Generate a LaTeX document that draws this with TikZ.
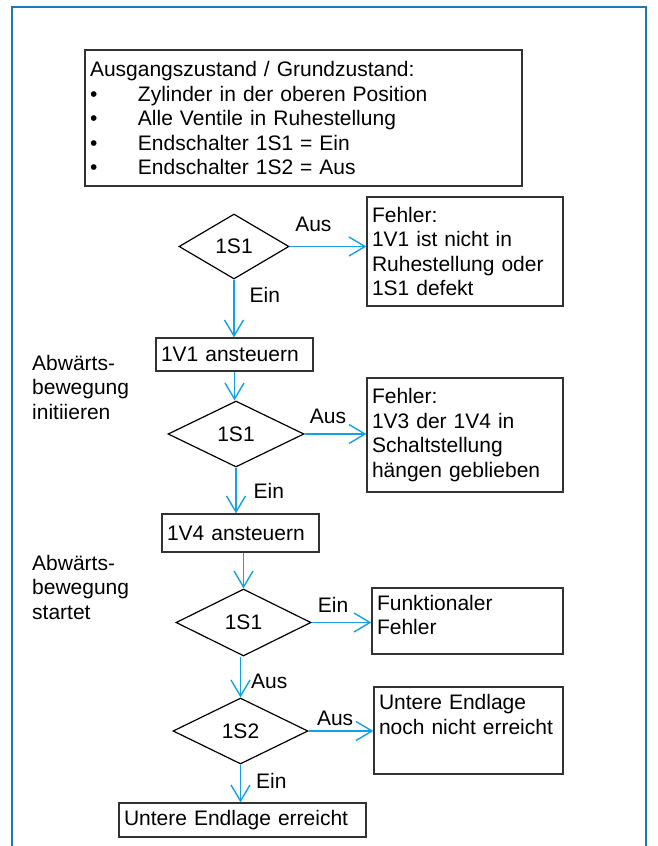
\documentclass[tikz,border=0pt]{standalone}
\usepackage{fontspec}
\setmainfont{Liberation Sans}
\usetikzlibrary{arrows.meta,positioning,calc,shapes.geometric}
\definecolor{framecol}{RGB}{31,119,180}
\definecolor{flowcol}{RGB}{20,160,225}
\definecolor{edgecol}{RGB}{50,50,50}
\newcommand{\txtfont}{\fontsize{21}{24.5}\selectfont}
\newcommand{\blt}{\makebox[48pt][l]{\textbullet}}
\tikzset{
  outerframe/.style={draw=framecol, line width=2.4pt},
  infobox/.style={rectangle, draw=edgecol, line width=1.3pt, align=left, inner xsep=5pt, inner ysep=0pt, font=\txtfont},
  decision/.style={diamond, draw=black, line width=1.2pt, inner sep=0pt, font=\txtfont},
  flow/.style={-{Straight Barb[length=16pt,width=19pt]}, draw=flowcol, line width=1.4pt},
  lbl/.style={inner sep=0pt, font=\txtfont},
  sidenote/.style={inner sep=0pt, align=left, font=\txtfont, anchor=north west}
}

\begin{document}
\begin{tikzpicture}[x=1pt, y=-1pt]
  \useasboundingbox (0,0) rectangle (657,846);
  \draw[outerframe] (12,846) -- (12,7) -- (646,7) -- (646,846);

  \node[infobox, text width=427pt, minimum height=136pt] (start) at (303.5,118)
    {Ausgangszustand / Grundzustand:\\ \blt Zylinder in der oberen Position\\ \blt Alle Ventile in Ruhestellung\\ \blt Endschalter 1S1 = Ein\\ \blt Endschalter 1S2 = Aus};

  \node[decision, minimum width=110pt, minimum height=65pt] (q1) at (234,246.5) {1S1};
  \node[infobox, text width=186pt, minimum height=109pt] (err1) at (465,251.5) {Fehler:\\1V1 ist nicht in\\Ruhestellung oder\\1S1 defekt};
  \node[infobox, text width=147pt, minimum height=33pt] (act1) at (234.5,354.5) {1V1 ansteuern};
  \node[decision, minimum width=136pt, minimum height=66pt] (q2) at (236,434) {1S1};
  \node[infobox, text width=186pt, minimum height=114pt] (err2) at (465,435) {Fehler:\\1V3 der 1V4 in\\Schaltstellung\\hängen geblieben};
  \node[infobox, text width=147pt, minimum height=38pt] (act2) at (240.5,533) {1V4 ansteuern};
  \node[decision, minimum width=135pt, minimum height=67pt] (q3) at (243.5,622.5) {1S1};
  \node[infobox, text width=181pt, minimum height=66pt] (err3) at (467.5,621) {Funktionaler\\Fehler\rule[-12pt]{0pt}{1pt}};
  \node[decision, minimum width=135pt, minimum height=66pt] (q4) at (240.5,731) {1S2};
  \node[infobox, text width=179pt, minimum height=87pt] (err4) at (468.5,730.5) {Untere Endlage\\noch nicht erreicht\rule[-32pt]{0pt}{1pt}};
  \node[infobox, text width=237pt, minimum height=34pt] (done) at (242.5,820) {Untere Endlage erreicht};

  \node[sidenote] (phase1) at (32,354.6) {Abwärts-\\bewegung\\initiieren};
  \node[sidenote] (phase2) at (32,554.6) {Abwärts-\\bewegung\\startet};

  % Ablauf
  \draw[flow] (q1.east) -- (q1.east -| err1.west) node[lbl, pos=0.31, above=14.5pt] {Aus};
  \draw[flow] (q1.south) -- (q1.south |- act1.north) node[lbl, pos=0.27, right=15pt] {Ein};
  \draw[flow] (act1.south) -- (act1.south |- q2.north);
  \draw[flow] (q2.east) -- (q2.east -| err2.west) node[lbl, pos=0.38, above=9.5pt] {Aus};
  \draw[flow] (q2.south) -- (q2.south |- act2.north) node[lbl, pos=0.5, right=17pt] {Ein};
  \draw[flow] (q3.north |- act2.south) -- (q3.north);
  \draw[flow] (q3.east) -- (q3.east -| err3.west) node[lbl, pos=0.36, above=9pt] {Ein};
  \draw[flow] (q4.north |- q3.south) -- (q4.north) node[lbl, pos=0.6, right=10pt] {Aus};
  \draw[flow] (q4.east) -- (q4.east -| err4.west) node[lbl, pos=0.41, above=4.5pt] {Aus};
  \draw[flow] (q4.south) -- (q4.south |- done.north) node[lbl, pos=0.44, right=15pt] {Ein};
\end{tikzpicture}
\end{document}
